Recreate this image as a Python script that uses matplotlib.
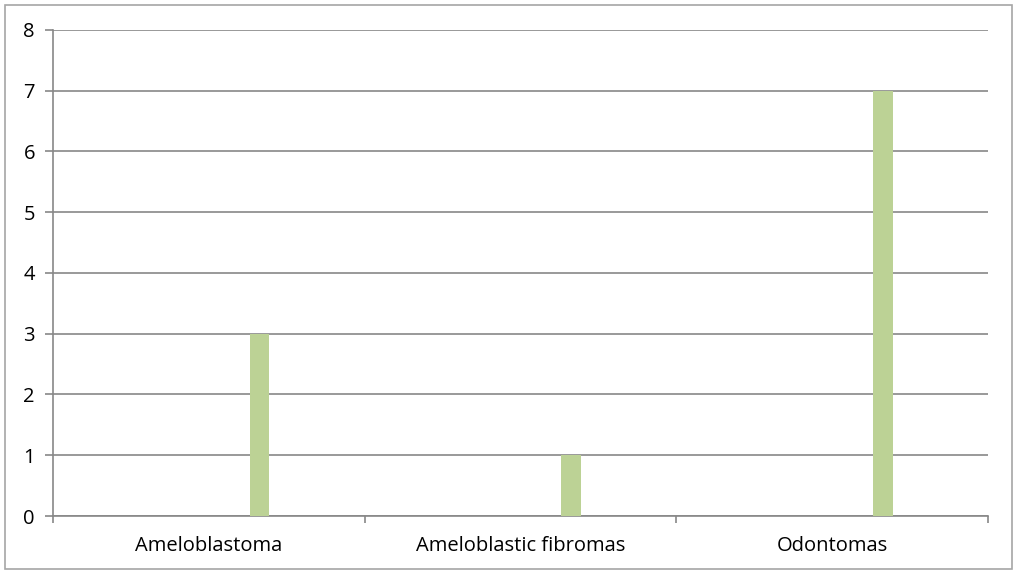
import matplotlib.pyplot as plt
from matplotlib.patches import Rectangle

categories = ["Ameloblastoma", "Ameloblastic fibromas", "Odontomas"]
counts = [3, 1, 7]
y_ticks = [0, 1, 2, 3, 4, 5, 6, 7, 8]

plt.rcParams['font.family'] = ['Open Sans', 'DejaVu Sans']

fig = plt.figure(figsize=(10.14, 5.72), dpi=100)
ax = fig.add_axes([0.0523, 0.0979, 0.9221, 0.8497])

# outer chart frame
fig.patches.append(Rectangle((0.005, 0.005), 0.993, 0.987, transform=fig.transFigure,
                             fill=False, edgecolor="#a6a6a6", linewidth=1.2))

grid_col = "#878787"
offset = 0.162
x = [i + offset for i in range(len(categories))]
ax.bar(x, counts, width=0.063, color="#bcd295", zorder=3)

ax.set_xlim(-0.5, len(categories) - 0.5)
ax.set_ylim(0, 8)
ax.set_yticks(y_ticks)
ax.yaxis.grid(True, color=grid_col, linewidth=1.2, zorder=1)

# category labels centred, tick marks at category boundaries
ax.set_xticks(range(len(categories)))
ax.set_xticklabels(categories, fontsize=14.5)
ax.tick_params(axis='x', length=0, pad=14.5)
ax.set_xticks([i - 0.5 for i in range(len(categories) + 1)], minor=True)
ax.tick_params(axis='x', which='minor', length=5, color=grid_col, width=1.2)
ax.tick_params(axis='y', length=6, color=grid_col, width=1.2, labelsize=14.5, pad=7)

for side in ["top", "right"]:
    ax.spines[side].set_visible(False)
for side in ["left", "bottom"]:
    ax.spines[side].set_color(grid_col)
    ax.spines[side].set_linewidth(1.2)

fig.savefig("out.png", dpi=100)
